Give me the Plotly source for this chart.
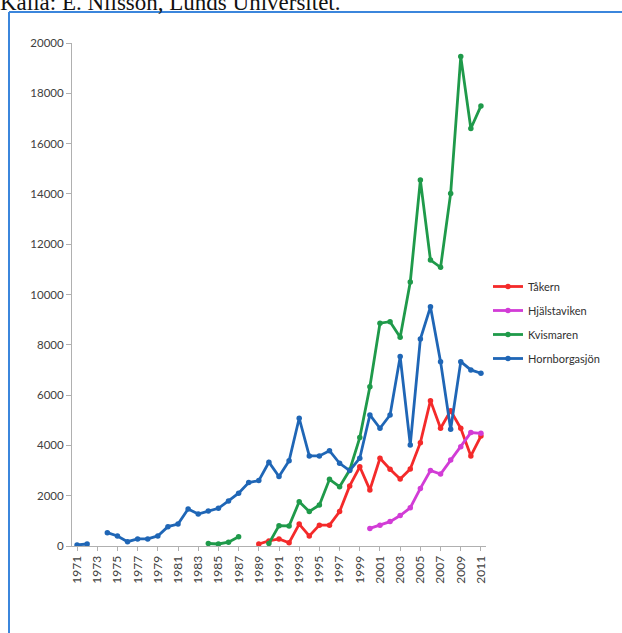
import plotly.graph_objects as go

years = list(range(1971, 2012))

takern_years = list(range(1989, 2012))
takern = [80, 200, 280, 130, 870, 400, 830, 830, 1370, 2390, 3150, 2230, 3490, 3050,
          2660, 3060, 4110, 5780, 4680, 5380, 4680, 3580, 4370]

hjal_years = list(range(2000, 2012))
hjal = [700, 830, 970, 1210, 1520, 2290, 3000, 2860, 3420, 3950, 4510, 4480]

kvis_years = [1984, 1985, 1986, 1987, 1988, 1989] + list(range(1990, 2012))
kvis = [100, 80, 150, 370, None, None,
        100, 810, 800, 1760, 1370, 1630, 2650, 2360, 3020, 4310, 6330, 8860, 8920,
        8300, 10500, 14550, 11370, 11080, 14020, 19460, 16600, 17500]

horn_years = list(range(1971, 2012))
horn = [40, 80, None, 530, 400, 170, 280, 280, 400, 770, 870, 1470, 1270, 1390, 1500,
        1790, 2100, 2520, 2600, 3330, 2760, 3390, 5080, 3580, 3580, 3790, 3290, 3000,
        3490, 5210, 4680, 5210, 7530, 4020, 8230, 9510, 7330, 4640, 7330, 7000, 6870]

series_names = ["Tåkern", "Hjälstaviken", "Kvismaren", "Hornborgasjön"]
series_x = [takern_years, hjal_years, kvis_years, horn_years]
series_y = [takern, hjal, kvis, horn]
colors = ["#f42a2a", "#d23cd6", "#1f9a4a", "#1f66b6"]

y_ticks = list(range(0, 20001, 2000))
x_ticks = list(range(1971, 2012, 2))

W, H = 622, 633
L, R, T, B = 72, 486, 43, 546


def px(xp):
    return (xp - L) / (R - L)


def py(yp):
    return (B - yp) / (B - T)


fig = go.Figure()
for i, (name, xs, ys, c) in enumerate(zip(series_names, series_x, series_y, colors)):
    fig.add_trace(go.Scatter(
        x=xs, y=ys, name=name, mode="lines+markers",
        line=dict(color=c, width=2.8),
        marker=dict(color=c, size=5.5, symbol="circle"),
        connectgaps=False, legendgroup=f"g{i}",
    ))

fam = "Lato, Carlito, 'Open Sans', sans-serif"

fig.update_layout(
    width=W, height=H,
    margin=dict(l=L, r=W - R, t=T, b=H - B, autoexpand=False),
    paper_bgcolor="white", plot_bgcolor="white",
    showlegend=True,
    title=dict(
        text="Källa: E. Nilsson, Lunds Universitet.",
        xref="container", yref="container", x=0, y=1 - 2 / H,
        xanchor="left", yanchor="middle",
        font=dict(family="Liberation Serif, Times New Roman, serif", size=23, color="#111111"),
    ),
    legend=dict(
        x=px(488), y=py(272), xanchor="left", yanchor="top",
        font=dict(family=fam, size=11, color="#303030"),
        bgcolor="rgba(0,0,0,0)", itemwidth=30, tracegroupgap=5,
    ),
    xaxis=dict(
        range=[1970.5, 2011.5], tickmode="array", tickvals=x_ticks,
        ticktext=[str(v) for v in x_ticks], tickangle=-90,
        showgrid=False, zeroline=False, showline=True, linecolor="#b0b0b0", linewidth=1,
        ticks="outside", ticklen=4, tickcolor="#b0b0b0",
        tickfont=dict(family=fam, size=12, color="#404040"), automargin=False,
    ),
    yaxis=dict(
        range=[0, 20000], tickmode="array", tickvals=y_ticks,
        ticktext=[str(v) for v in y_ticks],
        showgrid=False, zeroline=False, showline=True, linecolor="#b0b0b0", linewidth=1,
        ticks="outside", ticklen=5, tickcolor="#b0b0b0",
        tickfont=dict(family=fam, size=11.5, color="#404040"), automargin=False,
    ),
    shapes=[
        dict(type="line", xref="paper", yref="paper", x0=px(9), x1=px(9), y0=py(12), y1=py(640),
             line=dict(color="#3b86dc", width=2)),
        dict(type="line", xref="paper", yref="paper", x0=px(9), x1=px(640), y0=py(12), y1=py(12),
             line=dict(color="#3b86dc", width=2)),
    ],
)

fig.write_html("out.html", config={"displayModeBar": False},
               post_script="document.body.style.margin='0';")
